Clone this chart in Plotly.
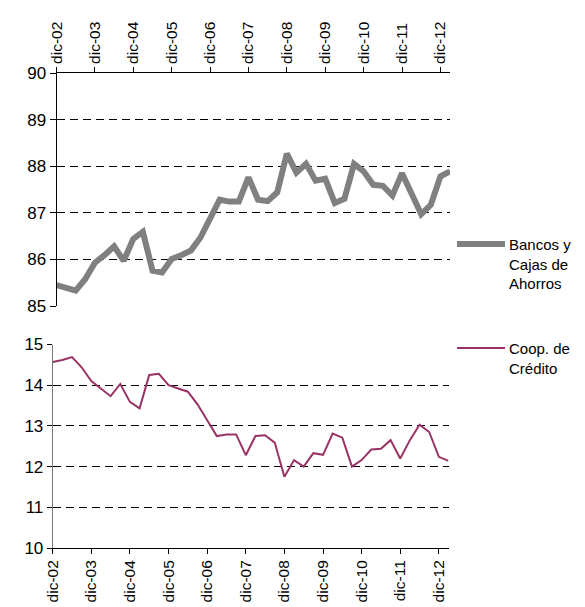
import plotly.graph_objects as go

# --- DATA ---
periods = [
    "dic-02", "mar-03", "jun-03", "sep-03", "dic-03", "mar-04", "jun-04", "sep-04",
    "dic-04", "mar-05", "jun-05", "sep-05", "dic-05", "mar-06", "jun-06", "sep-06",
    "dic-06", "mar-07", "jun-07", "sep-07", "dic-07", "mar-08", "jun-08", "sep-08",
    "dic-08", "mar-09", "jun-09", "sep-09", "dic-09", "mar-10", "jun-10", "sep-10",
    "dic-10", "mar-11", "jun-11", "sep-11", "dic-11", "mar-12", "jun-12", "sep-12",
    "dic-12", "mar-13",
]
year_ticks = ["dic-02", "dic-03", "dic-04", "dic-05", "dic-06", "dic-07",
              "dic-08", "dic-09", "dic-10", "dic-11", "dic-12"]

bancos = [
    85.45, 85.38, 85.33, 85.58, 85.93, 86.09, 86.28, 85.97, 86.44, 86.59,
    85.76, 85.72, 86.01, 86.09, 86.19, 86.47, 86.87, 87.28, 87.24, 87.24,
    87.76, 87.28, 87.25, 87.44, 88.27, 87.86, 88.05, 87.69, 87.73, 87.21,
    87.30, 88.05, 87.89, 87.60, 87.58, 87.37, 87.85, 87.41, 86.97, 87.17,
    87.78, 87.89,
]
coop = [
    14.57, 14.62, 14.69, 14.44, 14.10, 13.91, 13.73, 14.03, 13.59, 13.43,
    14.25, 14.28, 14.00, 13.92, 13.84, 13.53, 13.14, 12.75, 12.79, 12.79,
    12.28, 12.75, 12.77, 12.59, 11.75, 12.16, 12.00, 12.33, 12.29, 12.81,
    12.71, 12.00, 12.16, 12.42, 12.44, 12.65, 12.20, 12.65, 13.03, 12.85,
    12.24, 12.14,
]
series_names = ["Bancos y<br>Cajas de<br>Ahorros", "Coop. de<br>Crédito"]

# --- THEME ---
FONT = "Liberation Sans, Arial, sans-serif"
GREY = "#808080"
PLUM = "#993366"

W, H = 585, 607
PAGE_OFFSET = 8  # default body margin of the html page


def px_x(p):
    return (p - PAGE_OFFSET) / W


def px_y(p):
    return 1 - (p - PAGE_OFFSET) / H


fig = go.Figure()

fig.add_trace(go.Scatter(
    x=periods, y=bancos, mode="lines", name=series_names[0],
    line=dict(color=GREY, width=6), xaxis="x", yaxis="y", showlegend=False,
))
fig.add_trace(go.Scatter(
    x=periods, y=coop, mode="lines", name=series_names[1],
    line=dict(color=PLUM, width=2), xaxis="x2", yaxis="y2", showlegend=False,
))

xcommon = dict(
    type="category", categoryorder="array", categoryarray=periods,
    tickvals=year_ticks, ticktext=year_ticks, tickangle=-90,
    range=[0, len(periods) - 1], showgrid=False, zeroline=False,
    showline=True, linecolor="black", linewidth=1, automargin=False,
    ticks="outside", ticklen=5, tickcolor="black",
    tickfont=dict(family=FONT, size=15.5, color="black"),
)
ycommon = dict(
    dtick=1, showgrid=True, gridcolor="black", gridwidth=1, griddash="8px,5px",
    zeroline=False, showline=True, linewidth=1, automargin=False,
    ticks="outside", ticklen=6, tickcolor="black",
    tickfont=dict(family=FONT, size=17, color="black"),
)

# legend drawn by hand: long sample line with wrapped text beside it
legend_items = [
    (series_names[0], GREY, 6, 244),
    (series_names[1], PLUM, 2, 348),
]
shapes = []
annotations = []
for name, color, width, ypx in legend_items:
    shapes.append(dict(type="line", xref="paper", yref="paper",
                       x0=px_x(457), x1=px_x(505), y0=px_y(ypx), y1=px_y(ypx),
                       line=dict(color=color, width=width)))
    annotations.append(dict(xref="paper", yref="paper", x=px_x(507), y=px_y(ypx - 10),
                            xanchor="left", yanchor="top", align="left",
                            text=name, showarrow=False,
                            font=dict(family=FONT, size=15, color="black")))

fig.update_layout(
    width=W, height=H,
    margin=dict(l=0, r=0, t=0, b=0, autoexpand=False),
    paper_bgcolor="white", plot_bgcolor="white",
    font=dict(family=FONT, size=15, color="black"),
    showlegend=False,
    xaxis=dict(xcommon, domain=[px_x(56.5), px_x(450)], side="top", anchor="y"),
    yaxis=dict(ycommon, domain=[px_y(306), px_y(73)], range=[85, 90],
               linecolor="black", anchor="x"),
    xaxis2=dict(xcommon, domain=[px_x(52.7), px_x(448.5)], side="bottom", anchor="y2"),
    yaxis2=dict(ycommon, domain=[px_y(548), px_y(344.5)], range=[10, 15],
                linecolor="#777777", anchor="x2", ticklen=5),
    shapes=shapes,
    annotations=annotations,
)

fig.write_html("out.html")
